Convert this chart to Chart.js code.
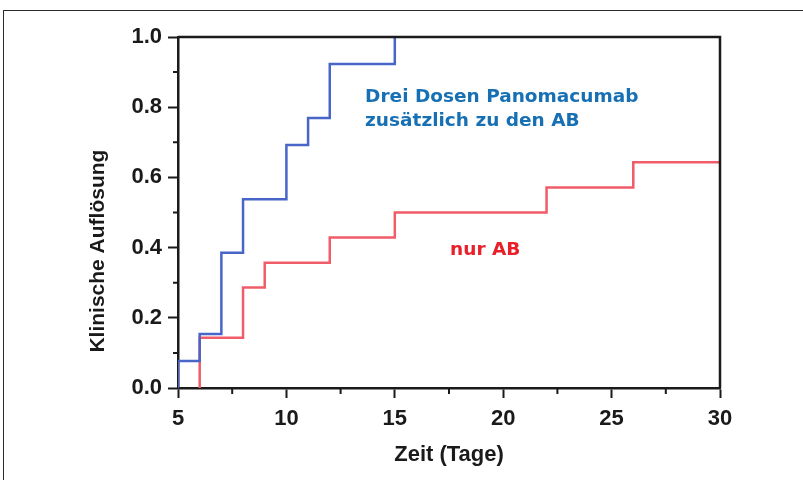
<!DOCTYPE html>
<html>
<head>
<meta charset="utf-8">
<script src="https://cdn.jsdelivr.net/npm/chart.js@4.4.0/dist/chart.umd.min.js"></script>
<style>
    html, body { margin: 0; padding: 0; background: #fff; }
    #wrap { position: relative; width: 803px; height: 480px; }
    #frame {
        position: absolute; left: 3px; top: 10px; width: 800px; height: 470px;
        border-top: 1.5px solid #2b2b2b; border-left: 1.5px solid #2b2b2b;
        pointer-events: none; box-sizing: border-box;
    }
</style>
</head>
<body>
<div id="wrap">
    <canvas id="kmChart"></canvas>
    <div id="frame"></div>
</div>
<script>
// Kaplan-Meier Schritte (Tag, Anteil)
const panoDays = [5, 5, 6, 7, 8, 10, 11, 12, 15];
const panoValues = [0, 0.077, 0.154, 0.385, 0.538, 0.692, 0.769, 0.923, 1.0];
const abDays = [6, 6, 8, 9, 12, 15, 22, 26, 30];
const abValues = [0, 0.143, 0.286, 0.357, 0.429, 0.5, 0.571, 0.643, 0.643];

const xTitle = 'Zeit (Tage)';
const yTitle = 'Klinische Auflösung';
const panoLabel = ['Drei Dosen Panomacumab', 'zusätzlich zu den AB'];
const abLabel = ['nur AB'];

function toPoints(days, values) {
    return days.map(function (d, i) { return { x: d, y: values[i] }; });
}

function isMajorX(v) { return Math.abs(v % 5) < 1e-6; }
function isMajorY(v) { return Math.round(v * 10) % 2 === 0; }

const extras = {
    id: 'extras',
    afterDraw(chart) {
        const ctx = chart.ctx;
        const area = chart.chartArea;
        const xs = chart.scales.x;
        const ys = chart.scales.y;
        ctx.save();

        // Rahmen oben/rechts
        ctx.strokeStyle = '#1a1a1a';
        ctx.lineWidth = 2.5;
        ctx.beginPath();
        ctx.moveTo(area.left, area.top);
        ctx.lineTo(area.right, area.top);
        ctx.lineTo(area.right, area.bottom);
        ctx.stroke();

        // kleine Ticks
        ctx.lineWidth = 2;
        ctx.beginPath();
        xs.ticks.forEach(function (t) {
            if (!isMajorX(t.value)) {
                const px = xs.getPixelForValue(t.value);
                ctx.moveTo(px, area.bottom);
                ctx.lineTo(px, area.bottom + 6);
            }
        });
        ys.ticks.forEach(function (t) {
            if (!isMajorY(t.value)) {
                const py = ys.getPixelForValue(t.value);
                ctx.moveTo(area.left, py);
                ctx.lineTo(area.left - 5, py);
            }
        });
        ctx.stroke();

        // y-Achsentitel
        ctx.fillStyle = '#1a1a1a';
        ctx.font = 'bold 21px "Liberation Sans", Arial, sans-serif';
        ctx.textAlign = 'center';
        ctx.textBaseline = 'middle';
        ctx.translate(area.left - 80, ys.getPixelForValue(0.39));
        ctx.rotate(-Math.PI / 2);
        ctx.fillText(yTitle, 0, 0);
        ctx.setTransform(1, 0, 0, 1, 0, 0);

        // Beschriftungen der Kurven
        ctx.textAlign = 'left';
        ctx.textBaseline = 'alphabetic';
        ctx.font = 'bold 18.5px "DejaVu Sans", sans-serif';
        ctx.fillStyle = '#1870b4';
        panoLabel.forEach(function (line, i) {
            ctx.fillText(line, xs.getPixelForValue(13.63), ys.getPixelForValue(0.815) + i * 24);
        });
        ctx.fillStyle = '#e8202a';
        abLabel.forEach(function (line, i) {
            ctx.fillText(line, xs.getPixelForValue(17.55), ys.getPixelForValue(0.379) + i * 24);
        });
        ctx.restore();
    }
};

const tickFont = { family: '"Liberation Sans", Arial, sans-serif', size: 22, weight: 'bold' };

let ctx = document.getElementById('kmChart');
const kmChart = new Chart(ctx, {
    type: 'line',
    data: {
        datasets: [{
            label: 'Panomacumab + AB',
            data: toPoints(panoDays, panoValues),
            borderColor: 'rgb(72, 102, 200)',
            borderWidth: 2.5,
            stepped: true,
            pointRadius: 0,
            fill: false
        }, {
            label: 'nur AB',
            data: toPoints(abDays, abValues),
            borderColor: 'rgb(240, 92, 104)',
            borderWidth: 2.5,
            stepped: true,
            pointRadius: 0,
            fill: false
        }]
    },
    options: {
        responsive: true,
        maintainAspectRatio: false,
        animation: false,
        layout: { padding: { top: 37, right: 83, left: 0, bottom: 0 } },
        plugins: {
            legend: { display: false },
            tooltip: { enabled: false }
        },
        scales: {
            x: {
                type: 'linear',
                min: 5,
                max: 30,
                afterFit: function (scale) { scale.height = 92; },
                border: { color: '#1a1a1a', width: 2.5 },
                grid: {
                    drawOnChartArea: false,
                    tickLength: 10,
                    tickWidth: 2,
                    tickColor: function (c) { return isMajorX(c.tick.value) ? '#1a1a1a' : 'transparent'; }
                },
                ticks: {
                    stepSize: 2.5,
                    autoSkip: false,
                    maxRotation: 0,
                    padding: 8,
                    color: '#1a1a1a',
                    font: tickFont,
                    callback: function (v) { return isMajorX(v) ? String(v) : ''; }
                },
                title: {
                    display: true,
                    text: xTitle,
                    color: '#1a1a1a',
                    font: { family: '"Liberation Sans", Arial, sans-serif', size: 22, weight: 'bold' },
                    padding: { top: 0, bottom: 12 }
                }
            },
            y: {
                min: 0,
                max: 1,
                afterFit: function (scale) { scale.width = 178; },
                border: { color: '#1a1a1a', width: 2.5 },
                grid: {
                    drawOnChartArea: false,
                    tickLength: 10,
                    tickWidth: 2,
                    tickColor: function (c) { return isMajorY(c.tick.value) ? '#1a1a1a' : 'transparent'; }
                },
                ticks: {
                    stepSize: 0.1,
                    autoSkip: false,
                    padding: 6,
                    color: '#1a1a1a',
                    font: tickFont,
                    callback: function (v) { return isMajorY(v) ? v.toFixed(1) : ''; }
                }
            }
        }
    },
    plugins: [extras]
});
</script>
</body>
</html>
